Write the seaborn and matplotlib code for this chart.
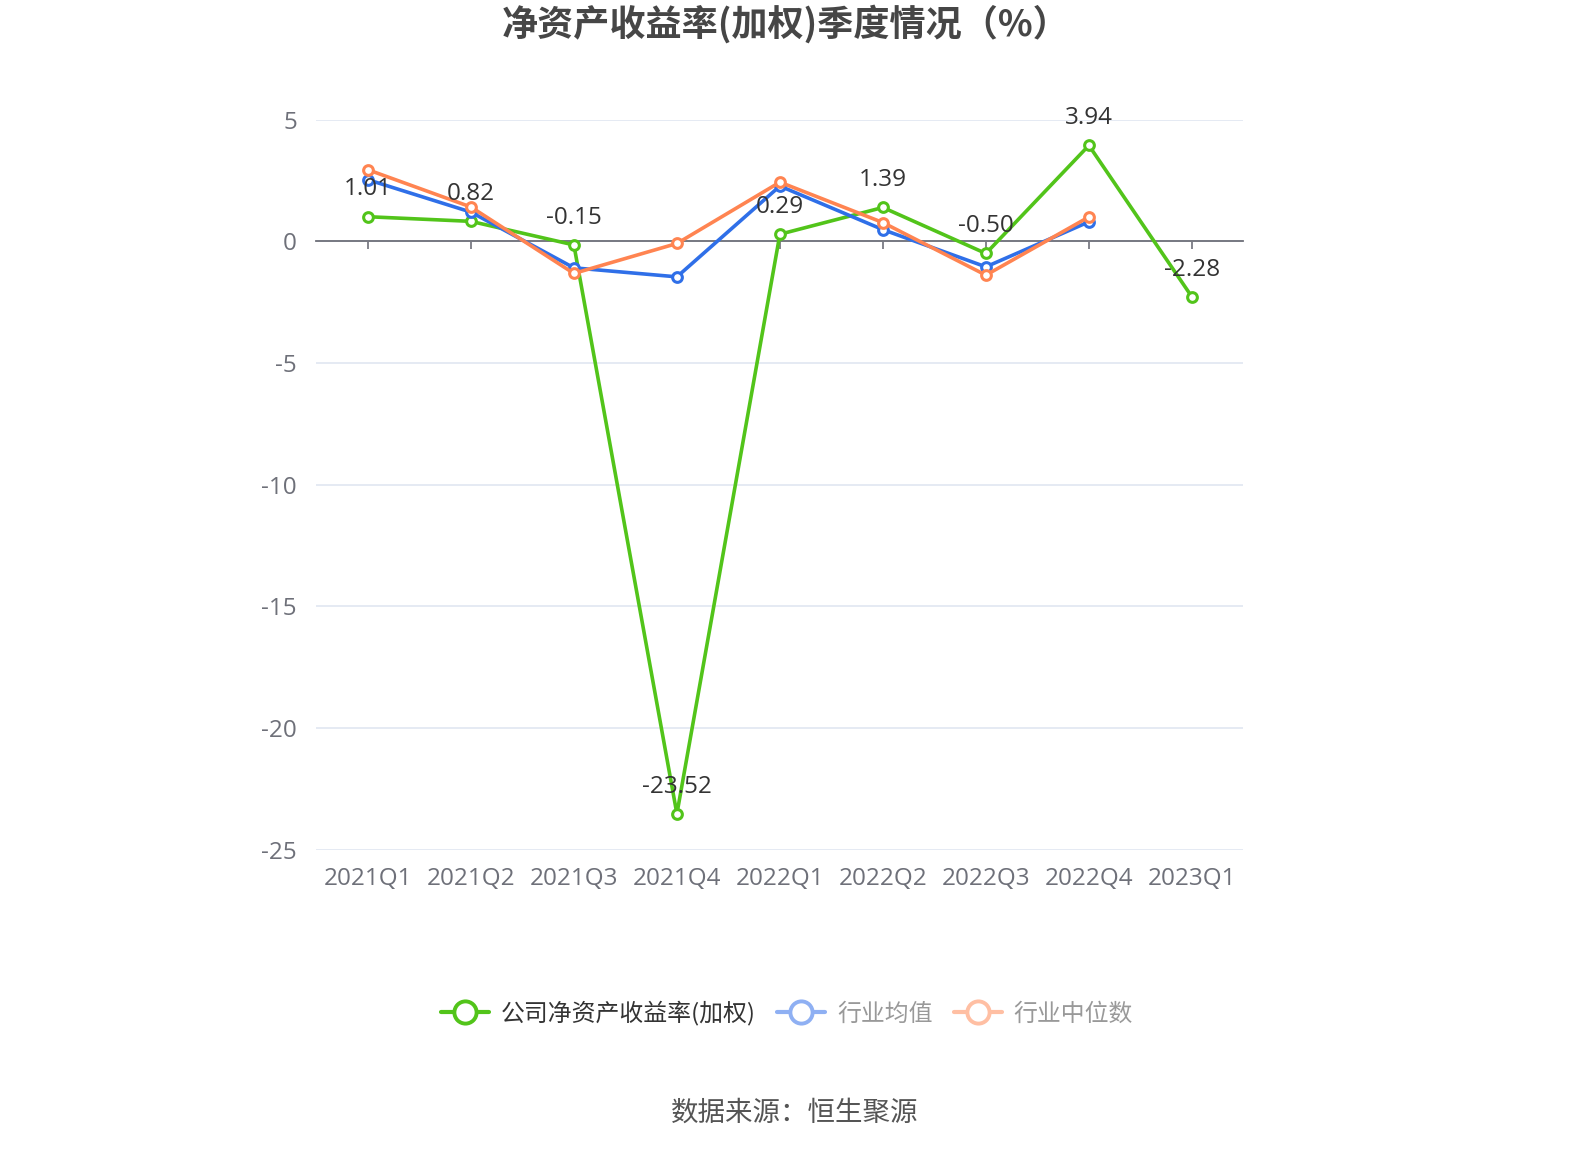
import matplotlib
matplotlib.use('Agg')
import matplotlib.pyplot as plt
from matplotlib.lines import Line2D
import seaborn as sns
import pandas as pd

quarters = ['2021Q1', '2021Q2', '2021Q3', '2021Q4', '2022Q1', '2022Q2', '2022Q3', '2022Q4', '2023Q1']
company = [1.01, 0.82, -0.15, -23.52, 0.29, 1.39, -0.50, 3.94, -2.28]
industry_mean = [2.53, 1.20, -1.09, -1.46, 2.27, 0.48, -1.05, 0.80]
industry_median = [2.94, 1.41, -1.32, -0.09, 2.43, 0.77, -1.39, 1.00]
yticks = [5, 0, -5, -10, -15, -20, -25]

green = '#52c41a'
blue = '#2f6fe8'
orange = '#ff8451'
num_font = ['Open Sans', 'Noto Sans CJK SC']

sns.set_theme(style='white')
plt.rcParams['font.family'] = ['Noto Sans CJK SC', 'DejaVu Sans']

fig = plt.figure(figsize=(15.9, 11.5), dpi=100)
ax = fig.add_axes([0.199, 0.261, 0.583, 0.635])

df_c = pd.DataFrame({'q': quarters, 'v': company})
df_m = pd.DataFrame({'q': quarters[:8], 'v': industry_mean})
df_d = pd.DataFrame({'q': quarters[:8], 'v': industry_median})

style = dict(marker='o', markersize=7, markerfacecolor='white', markeredgewidth=2.2,
             linewidth=2.6)
sns.lineplot(data=df_c, x='q', y='v', ax=ax, color=green, markeredgecolor=green, zorder=3, **style)
sns.lineplot(data=df_m, x='q', y='v', ax=ax, color=blue, markeredgecolor=blue, zorder=4, **style)
sns.lineplot(data=df_d, x='q', y='v', ax=ax, color=orange, markeredgecolor=orange, zorder=5, **style)

for i, v in enumerate(company):
    ax.annotate(f'{v:.2f}', (i, v), xytext=(0, 11), textcoords='offset points',
                ha='center', va='bottom', fontsize=17.5, color='#333333', zorder=6,
                family=num_font)

ax.set_xlim(-0.5, len(quarters) - 0.5)
ax.set_ylim(-25, 5)
ax.set_yticks(yticks)
ax.set_yticklabels([str(t) for t in yticks], family=num_font)
ax.grid(axis='y', color='#e0e6f1', linewidth=1.2)
ax.grid(axis='x', visible=False)
for s in ['top', 'right', 'left']:
    ax.spines[s].set_visible(False)
ax.spines['bottom'].set_position(('data', 0))
ax.spines['bottom'].set_color('#6e7079')
ax.spines['bottom'].set_linewidth(1.3)
ax.spines['bottom'].set_zorder(2)
ax.set_xticks(range(len(quarters)))
ax.tick_params(axis='x', bottom=True, length=6, width=1.2, color='#6e7079', labelbottom=False)
ax.tick_params(axis='y', length=0, pad=14, labelsize=17.5, labelcolor='#6e7079')
ax.set_xlabel('')
ax.set_ylabel('')

sec = ax.secondary_xaxis('bottom')
sec.set_xticks(range(len(quarters)))
sec.set_xticklabels(quarters, family=num_font)
sec.tick_params(length=0, pad=12, labelsize=17.5, labelcolor='#6e7079')
sec.spines['bottom'].set_visible(False)

fig.text(0.494, 0.979, '净资产收益率(加权)季度情况（%）', ha='center', va='center',
         fontsize=26, fontweight='bold', color='#464646')

handles = [
    Line2D([], [], color=green, lw=3, marker='o', markersize=16, markerfacecolor='white',
           markeredgecolor=green, markeredgewidth=2.8),
    Line2D([], [], color='#8fb0f3', lw=3, marker='o', markersize=16, markerfacecolor='white',
           markeredgecolor='#8fb0f3', markeredgewidth=2.8),
    Line2D([], [], color='#ffbfa3', lw=3, marker='o', markersize=16, markerfacecolor='white',
           markeredgecolor='#ffbfa3', markeredgewidth=2.8),
]
labels = ['公司净资产收益率(加权)', '行业均值', '行业中位数']
leg = fig.legend(handles, labels, loc='center', bbox_to_anchor=(0.495, 0.119), ncol=3,
                 frameon=False, fontsize=17.2, handlelength=2.0, handletextpad=0.5,
                 columnspacing=0.9)
for t, c in zip(leg.get_texts(), ['#333333', '#999999', '#999999']):
    t.set_color(c)

fig.text(0.5, 0.032, '数据来源：恒生聚源', ha='center', va='center', fontsize=19.8, color='#555555')

fig.savefig('out.png', dpi=100)
